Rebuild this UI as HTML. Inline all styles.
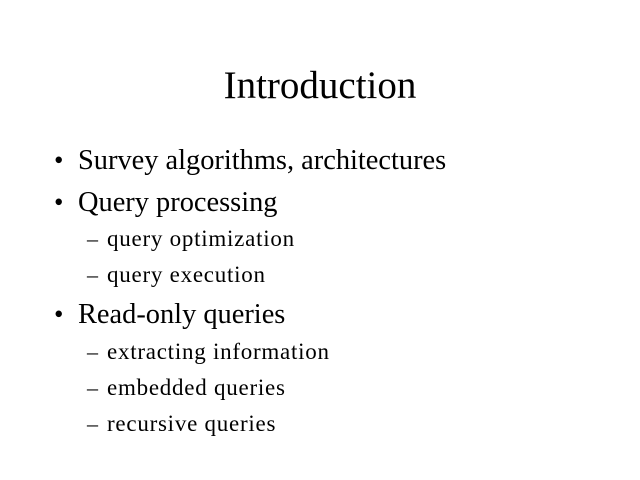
<!DOCTYPE html>
<html><head><style>
body{margin:0;width:640px;height:480px;background:#fff;position:relative;overflow:hidden;font-family:"Liberation Serif",serif;color:#000}
div{position:absolute;white-space:nowrap;line-height:1}
.t{left:0;width:640px;text-align:center;font-size:39px;top:66px}
.b{font-size:28.4px;left:78px}
.bd{font-size:27px;left:54px}
.s{font-size:23px;left:107px;letter-spacing:0.75px}
.sd{font-size:22px;left:87px}
</style></head><body>
<div class="t">Introduction</div>
<div class="bd" style="top:147px">•</div><div class="b" style="top:147px">Survey algorithms, architectures</div>
<div class="bd" style="top:189px">•</div><div class="b" style="top:189px">Query processing</div>
<div class="sd" style="top:228px">–</div><div class="s" style="top:227px">query optimization</div>
<div class="sd" style="top:264px">–</div><div class="s" style="top:263px">query execution</div>
<div class="bd" style="top:301px">•</div><div class="b" style="top:301px">Read-only queries</div>
<div class="sd" style="top:341px">–</div><div class="s" style="top:340px">extracting information</div>
<div class="sd" style="top:377px">–</div><div class="s" style="top:376px">embedded queries</div>
<div class="sd" style="top:413px">–</div><div class="s" style="top:412px">recursive queries</div>
</body></html>
